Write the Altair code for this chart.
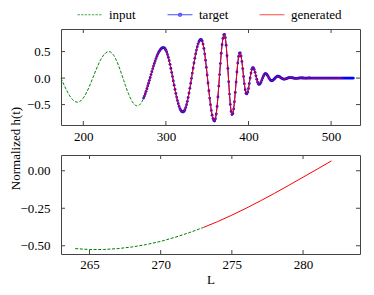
import altair as alt
import pandas as pd

# ---------------- data ----------------
input_L = list(range(173, 264, 2)) + list(range(264, 274))
input_h = [
    0.000, -0.071, -0.141, -0.207, -0.267, -0.322, -0.368, -0.405, -0.433, -0.449,
    -0.455, -0.449, -0.429, -0.397, -0.354, -0.301, -0.239, -0.169, -0.095, -0.017,
    0.062, 0.140, 0.214, 0.284, 0.346, 0.399, 0.442, 0.474, 0.494, 0.500,
    0.492, 0.466, 0.425, 0.370, 0.302, 0.223, 0.137, 0.046, -0.047, -0.140,
    -0.228, -0.308, -0.379, -0.438, -0.482, -0.512,
    -0.519, -0.525, -0.525, -0.519, -0.508, -0.492, -0.471, -0.444, -0.413, -0.378,
]

target_L = list(range(273, 528))
target_h = [
    -0.378, -0.339, -0.296, -0.250, -0.201, -0.150, -0.097, -0.043, 0.011, 0.066,
    0.120, 0.174, 0.226, 0.276, 0.323, 0.368, 0.409, 0.446, 0.479, 0.508,
    0.532, 0.550, 0.564, 0.572, 0.575,
    0.570, 0.553, 0.527, 0.490, 0.444, 0.390, 0.328, 0.259, 0.186, 0.108,
    0.028, -0.053, -0.133, -0.212, -0.288, -0.359, -0.425, -0.484, -0.534, -0.575,
    -0.606, -0.628, -0.639,
    -0.638, -0.624, -0.597, -0.556, -0.503, -0.439, -0.365, -0.283, -0.194, -0.101,
    -0.004, 0.094, 0.191, 0.284, 0.373, 0.455, 0.529, 0.593, 0.646, 0.687,
    0.714, 0.728,
    0.726, 0.698, 0.642, 0.561, 0.458, 0.337, 0.200, 0.056, -0.092, -0.238,
    -0.377, -0.503, -0.613, -0.701, -0.764, -0.801,
    -0.809, -0.769, -0.676, -0.534, -0.356, -0.151, 0.064, 0.276, 0.469, 0.631,
    0.749, 0.816,
    0.826, 0.761, 0.621, 0.421, 0.183, -0.068, -0.302, -0.498, -0.630, -0.688,
    -0.669, -0.585, -0.447, -0.271, -0.075, 0.117, 0.283, 0.407, 0.472,
    0.473, 0.417, 0.314, 0.179, 0.031, -0.109, -0.220, -0.286,
    -0.298, -0.265, -0.195, -0.101, 0.001, 0.095, 0.165, 0.198,
    0.193, 0.161, 0.108, 0.043, -0.022, -0.077, -0.111,
    -0.120, -0.108, -0.081, -0.044, -0.003, 0.036, 0.066, 0.083,
    0.084, 0.072, 0.051, 0.025, -0.003, -0.028, -0.044,
    -0.050, -0.046, -0.036, -0.021, -0.003, 0.014, 0.027, 0.034,
    0.034, 0.030, 0.021, 0.010, -0.001, -0.011, -0.018,
    -0.020, -0.019, -0.015, -0.010, -0.003, 0.003, 0.007, 0.010,
    0.009, 0.007, 0.004, 0.001, -0.002, -0.004, -0.005, -0.005,
    -0.004, -0.002, 0.000, 0.002, 0.003, 0.003, 0.002, 0.001,
    0.000, 0.000, -0.001, -0.001, 0.000, 0.000, 0.001, 0.001, 0.000, 0.000,
    0.000, 0.000, 0.000, 0.000, 0.000, 0.000, 0.000, 0.000, 0.000, 0.000,
    0.000, 0.000, 0.000, 0.000, 0.000, 0.000, 0.000, 0.000, 0.000, 0.000,
    0.000, 0.000, 0.000, 0.000, 0.000, 0.000, 0.000, 0.000, 0.000, 0.000,
    0.000, 0.000, 0.000, 0.000, 0.000, 0.000, 0.000, 0.000, 0.000, 0.000,
    0.000, 0.000, 0.000, 0.000, 0.000, 0.000, 0.000, 0.000, 0.000, 0.000,
    0.000,
]

# the generated curve lies on top of the target up to L = 514
generated_L = list(range(273, 515))
generated_h = target_h[: len(generated_L)]

series_names = ["input", "target", "generated"]
series_colors = ["#008000", "#0000ff", "#ff0000"]

top_x_ticks = [200, 300, 400, 500]
top_y_ticks = [-0.5, 0.0, 0.5]
bot_x_ticks = [265, 270, 275, 280]
bot_y_ticks = [-0.5, -0.25, 0.0]

# ---------------- styling ----------------
FONT = "Liberation Serif"
FS = 13
W = 299
H_TOP = 96
H_BOT = 99
FRAME = "#444"
TICK = 4
DASH = [3, 1.6]

df_in = pd.DataFrame({"L": input_L, "h": input_h})
df_tg = pd.DataFrame({"L": target_L, "h": target_h})
df_gen = pd.DataFrame({"L": generated_L, "h": generated_h})
df_in_b = df_in[df_in["L"] >= 264]
df_gen_b = df_gen[df_gen["L"] <= 282]


def make_panel(x_enc, y_enc, xt, yt, h, layers):
    tx = pd.DataFrame({"L": xt})
    ty = pd.DataFrame({"h": yt})
    rule = dict(color=FRAME, strokeWidth=1)
    ticks = [
        alt.Chart(tx).mark_rule(**rule).encode(x=x_enc, y=alt.value(0), y2=alt.value(TICK)),
        alt.Chart(tx).mark_rule(**rule).encode(x=x_enc, y=alt.value(h), y2=alt.value(h - TICK)),
        alt.Chart(ty).mark_rule(**rule).encode(y=y_enc, x=alt.value(0), x2=alt.value(TICK)),
        alt.Chart(ty).mark_rule(**rule).encode(y=y_enc, x=alt.value(W), x2=alt.value(W - TICK)),
    ]
    return alt.layer(*layers, *ticks).properties(width=W, height=h)


# ---------- top panel ----------
x_top = alt.X(
    "L:Q",
    scale=alt.Scale(domain=[173, 535], nice=False, zero=False),
    axis=alt.Axis(values=top_x_ticks, format="d", title=None, labelPadding=5),
)
y_top = alt.Y(
    "h:Q",
    scale=alt.Scale(domain=[-0.885, 0.926], nice=False, zero=False),
    axis=alt.Axis(
        values=top_y_ticks, format=".1f", title="Normalized h(t)",
        labelPadding=11, titleX=-46, titleY=119, titleAlign="center",
        titleBaseline="middle", titleAngle=270,
    ),
)

legend_def = alt.Legend(
    title=None, orient="none", legendX=22.5, legendY=-21, direction="horizontal",
    symbolSize=100, symbolStrokeWidth=1.2, labelFont=FONT, labelFontSize=FS,
    labelOffset=12.5, columnPadding=28, labelColor="#000", padding=0,
)
legend_shapes = [
    "M-2.5,0L2.5,0",
    "M-2.5,0L2.5,0M-0.3,0A0.3,0.3 0 1,0 0.3,0A0.3,0.3 0 1,0 -0.3,0",
    "M-2.5,0L2.5,0",
]
legend_dashes = [[2.4, 1.2], [1, 0], [1, 0]]

legend_layer = (
    alt.Chart(pd.DataFrame({"series": series_names}))
    .transform_filter("false")
    .mark_point(filled=False, size=100, strokeWidth=1.2)
    .encode(
        color=alt.Color("series:N", scale=alt.Scale(domain=series_names, range=series_colors), legend=legend_def),
        shape=alt.Shape("series:N", scale=alt.Scale(domain=series_names, range=legend_shapes), legend=legend_def),
        strokeDash=alt.StrokeDash("series:N", scale=alt.Scale(domain=series_names, range=legend_dashes), legend=legend_def),
    )
)

top_layers = [
    alt.Chart(df_in).mark_line(color=series_colors[0], strokeWidth=1, strokeDash=DASH).encode(x=x_top, y=y_top),
    alt.Chart(df_tg).mark_line(color=series_colors[1], strokeWidth=1).encode(x=x_top, y=y_top),
    alt.Chart(df_tg).mark_circle(color=series_colors[1], size=8, opacity=0.9).encode(x=x_top, y=y_top),
    alt.Chart(df_gen).mark_line(color=series_colors[2], strokeWidth=1).encode(x=x_top, y=y_top),
    legend_layer,
]
top = make_panel(x_top, y_top, top_x_ticks, top_y_ticks, H_TOP, top_layers)

# ---------- bottom panel ----------
x_bot = alt.X(
    "L:Q",
    scale=alt.Scale(domain=[263, 284], nice=False, zero=False),
    axis=alt.Axis(values=bot_x_ticks, format="d", title="L", labelPadding=4, titlePadding=2),
)
y_bot = alt.Y(
    "h:Q",
    scale=alt.Scale(domain=[-0.555, 0.105], nice=False, zero=False),
    axis=alt.Axis(values=bot_y_ticks, format=".2f", title=None, labelPadding=11),
)
bot_layers = [
    alt.Chart(df_in_b).mark_line(color=series_colors[0], strokeWidth=1, strokeDash=DASH).encode(x=x_bot, y=y_bot),
    alt.Chart(df_gen_b).mark_line(color=series_colors[2], strokeWidth=1).encode(x=x_bot, y=y_bot),
]
bottom = make_panel(x_bot, y_bot, bot_x_ticks, bot_y_ticks, H_BOT, bot_layers)

chart = (
    alt.vconcat(top, bottom, spacing=30, bounds="flush")
    .resolve_scale(x="independent", y="independent")
    .properties(padding=0)
    .configure_view(stroke=FRAME, strokeWidth=1)
    .configure_axis(
        labelFont=FONT, titleFont=FONT, labelFontSize=FS, titleFontSize=FS,
        labelColor="#000", titleColor="#000", titleFontWeight="normal",
        ticks=False, tickSize=0, domain=False, grid=False,
    )
)

chart.save("out.html", embed_options={"renderer": "svg", "actions": False})
